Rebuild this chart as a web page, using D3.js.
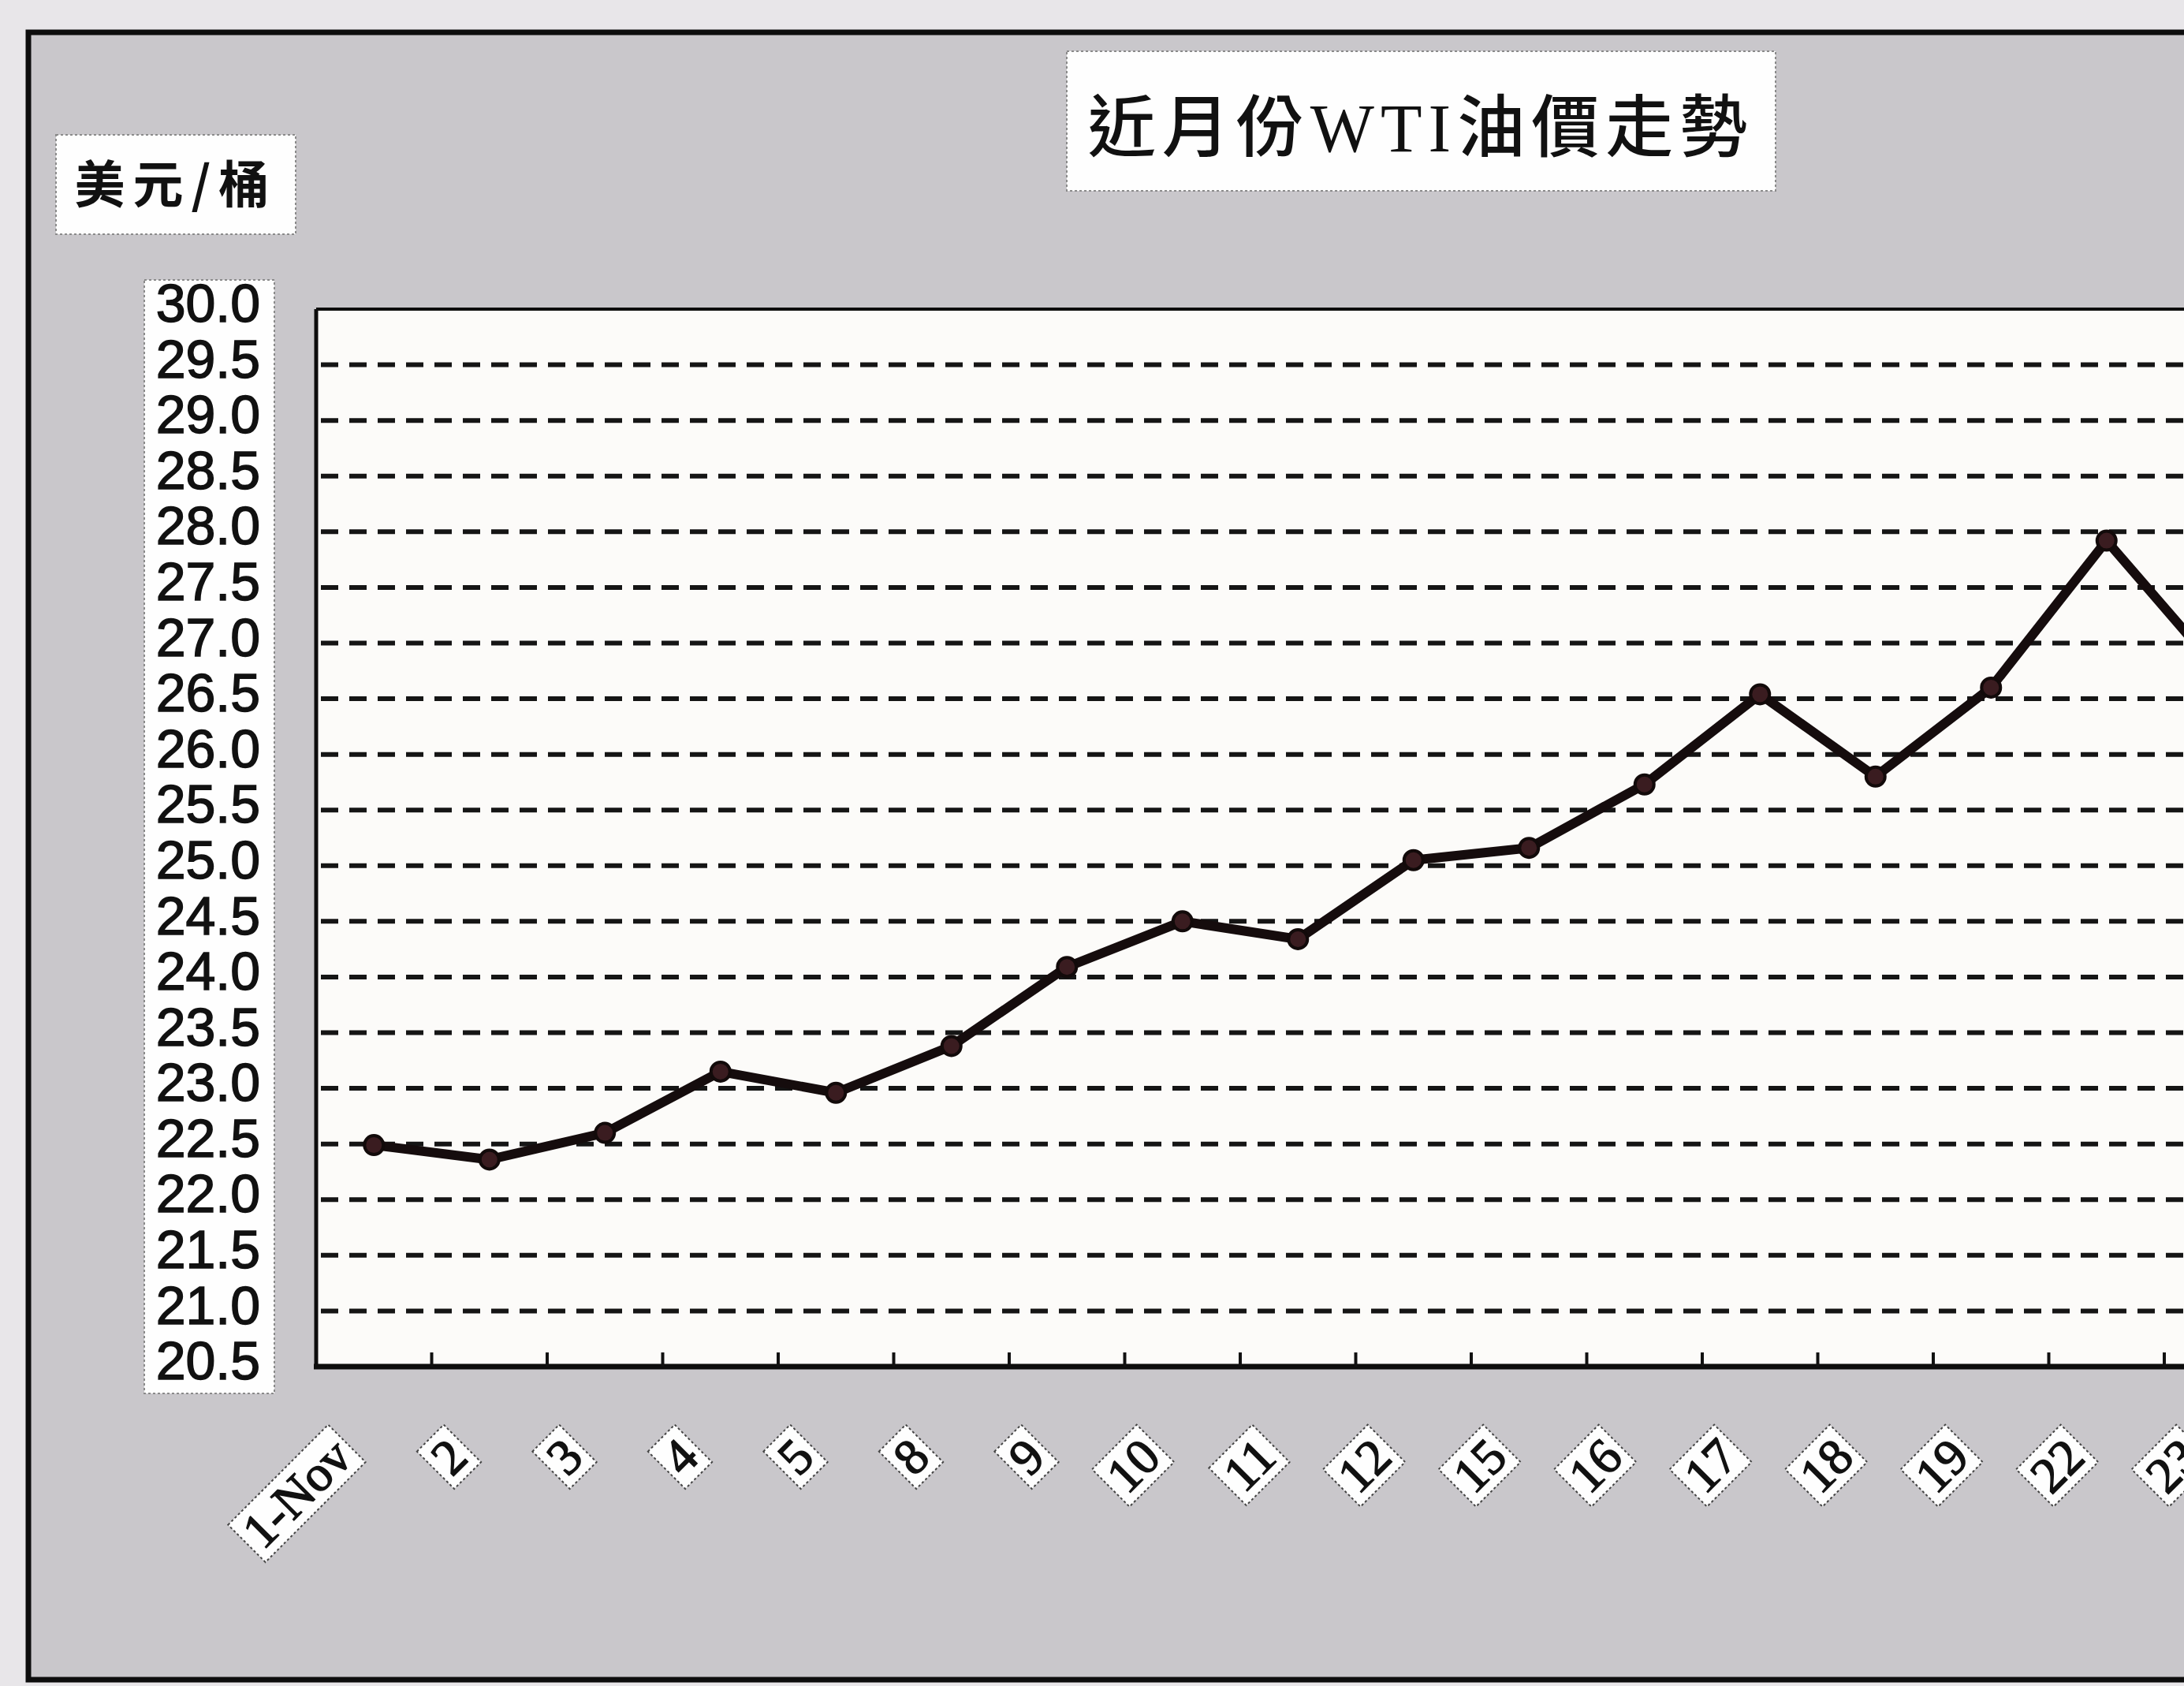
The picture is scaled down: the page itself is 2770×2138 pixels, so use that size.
<!DOCTYPE html>
<html>
<head>
<meta charset="utf-8">
<script src="https://cdn.jsdelivr.net/npm/d3@7"></script>
<style>
  body { margin: 0; background: #e8e6e9; overflow: hidden; }
  svg { display: block; }
  .ylab text { font-family: "Liberation Sans", Arial, sans-serif; font-size: 68px; fill: #111; stroke: #111; stroke-width: 1.5px; }
  .xlab { font-family: "Liberation Serif", "Times New Roman", serif; font-size: 64px; fill: #111; stroke: #111; stroke-width: 1.5px; }
  .cjk { font-family: "Noto Sans CJK TC", "Noto Sans CJK SC", sans-serif; fill: #111; }
</style>
</head>
<body>
<svg width="2770" height="2138"></svg>
<script>
const titleParts = ["近月份", "WTI", "油價走勢"];
const unitLabel = "美元/桶";
const days = ["1-Nov", "2", "3", "4", "5", "8", "9", "10", "11", "12", "15", "16", "17", "18", "19", "22", "23"];
const prices = [22.49, 22.36, 22.6, 23.15, 22.96, 23.38, 24.09, 24.5, 24.34, 25.05, 25.16, 25.73, 26.54, 25.8, 26.6, 27.92, 26.72];
const yTicks = [30.0, 29.5, 29.0, 28.5, 28.0, 27.5, 27.0, 26.5, 26.0, 25.5, 25.0, 24.5, 24.0, 23.5, 23.0, 22.5, 22.0, 21.5, 21.0, 20.5];

const svg = d3.select("svg");
const plot = { left: 401, top: 392, bottom: 1733, right: 2800 };
const step = 146.5;

// chart area (grey panel inside the black frame)
svg.append("rect")
  .attr("x", 36).attr("y", 41)
  .attr("width", 2800).attr("height", 2089)
  .attr("fill", "#c9c7cb")
  .attr("stroke", "#0d0d0d").attr("stroke-width", 7);

const x = d3.scaleBand()
  .domain(days)
  .range([plot.left, plot.left + step * days.length])
  .padding(0);
const y = d3.scaleLinear()
  .domain([20.5, 30])
  .range([plot.bottom, plot.top]);
const cx = (d) => x(d) + x.bandwidth() / 2;

// plot area
svg.append("rect")
  .attr("x", plot.left).attr("y", plot.top)
  .attr("width", plot.right - plot.left).attr("height", plot.bottom - plot.top)
  .attr("fill", "#fcfbf9");

// dashed gridlines
svg.append("g")
  .selectAll("line")
  .data(yTicks.filter((v) => v > 20.5 && v < 30))
  .join("line")
  .attr("x1", plot.left + 6).attr("x2", plot.right)
  .attr("y1", (d) => y(d)).attr("y2", (d) => y(d))
  .attr("stroke", "#151515")
  .attr("stroke-width", 6)
  .attr("stroke-dasharray", "22 14");

// plot borders
const border = svg.append("g").attr("stroke", "#0d0d0d");
border.append("line").attr("x1", plot.left).attr("x2", plot.left)
  .attr("y1", plot.top).attr("y2", plot.bottom).attr("stroke-width", 5);
border.append("line").attr("x1", plot.left).attr("x2", plot.right)
  .attr("y1", plot.top).attr("y2", plot.top).attr("stroke-width", 4);
border.append("line").attr("x1", plot.left - 3).attr("x2", plot.right)
  .attr("y1", plot.bottom).attr("y2", plot.bottom).attr("stroke-width", 7);

// category tick marks, between days, pointing up
svg.append("g")
  .selectAll("line")
  .data(days.slice(1))
  .join("line")
  .attr("x1", (d) => x(d)).attr("x2", (d) => x(d))
  .attr("y1", plot.bottom).attr("y2", plot.bottom - 18)
  .attr("stroke", "#111").attr("stroke-width", 4);

// y label box
svg.append("rect")
  .attr("x", 183).attr("y", 355).attr("width", 165).attr("height", 1412)
  .attr("fill", "#fefefe")
  .attr("stroke", "#8a8a8a").attr("stroke-width", 2).attr("stroke-dasharray", "3 3");

const yAxis = d3.axisLeft(y)
  .tickValues(yTicks)
  .tickFormat(d3.format(".1f"))
  .tickSize(0)
  .tickPadding(0);
svg.append("g")
  .attr("class", "ylab")
  .attr("transform", "translate(330,0)")
  .call(yAxis)
  .call((g) => g.select(".domain").remove())
  .selectAll("text")
  .attr("dy", "0.23em");

// price line
const points = days.map((d, i) => ({ day: d, price: prices[i] }));
const line = d3.line().x((d) => cx(d.day)).y((d) => y(d.price));
svg.append("path")
  .datum(points)
  .attr("d", line)
  .attr("fill", "none")
  .attr("stroke", "#150c0d")
  .attr("stroke-width", 12)
  .attr("stroke-linejoin", "round");
svg.append("g")
  .selectAll("circle")
  .data(points)
  .join("circle")
  .attr("cx", (d) => cx(d.day))
  .attr("cy", (d) => y(d.price))
  .attr("r", 12)
  .attr("fill", "#3a1c20")
  .attr("stroke", "#120a0a")
  .attr("stroke-width", 4);

// rotated day labels on white tags
const tags = svg.append("g")
  .selectAll("g")
  .data(days)
  .join("g")
  .attr("transform", (d) => `translate(${cx(d) - 40},1836) rotate(-45)`);
tags.append("text")
  .attr("class", "xlab")
  .attr("text-anchor", "end")
  .attr("dominant-baseline", "central")
  .text((d) => d);
tags.each(function () {
  const g = d3.select(this);
  const bb = g.select("text").node().getBBox();
  g.insert("rect", "text")
    .attr("x", bb.x - 8).attr("y", bb.y + 2)
    .attr("width", bb.width + 16).attr("height", bb.height - 4)
    .attr("fill", "#fefefe")
    .attr("stroke", "#444").attr("stroke-width", 2).attr("stroke-dasharray", "3 3");
});

// unit box
svg.append("rect")
  .attr("x", 71).attr("y", 171).attr("width", 304).attr("height", 126)
  .attr("fill", "#fefefe")
  .attr("stroke", "#8a8a8a").attr("stroke-width", 2).attr("stroke-dasharray", "3 3");
svg.append("text")
  .attr("class", "cjk")
  .attr("x", 223).attr("y", 257)
  .attr("text-anchor", "middle")
  .attr("font-size", 64)
  .attr("font-weight", "bold")
  .attr("letter-spacing", 10)
  .text(unitLabel);

// title box
svg.append("rect")
  .attr("x", 1353).attr("y", 65).attr("width", 899).attr("height", 177)
  .attr("fill", "#fefefe")
  .attr("stroke", "#8a8a8a").attr("stroke-width", 2).attr("stroke-dasharray", "3 3");
const titleText = svg.append("text")
  .attr("class", "cjk")
  .attr("x", 1802).attr("y", 192)
  .attr("text-anchor", "middle")
  .attr("font-size", 86)
  .attr("font-weight", 500)
  .attr("letter-spacing", 8);
titleText.selectAll("tspan")
  .data(titleParts)
  .join("tspan")
  .attr("font-family", (d, i) => (i === 1 ? "Liberation Serif, serif" : null))
  .text((d) => d);
</script>
</body>
</html>
